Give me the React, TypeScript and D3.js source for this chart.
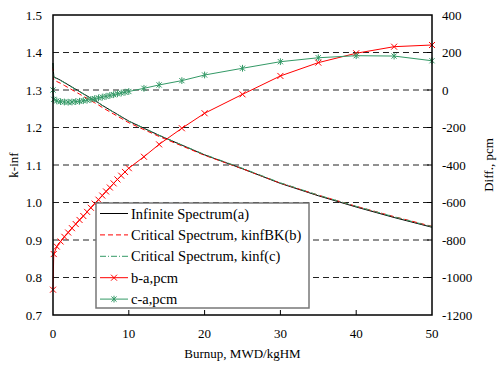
import React, { useRef, useEffect } from 'react';
import * as d3 from 'd3';

// burnup steps, MWD/kgHM
const burnup = [0, 0.1, 0.5, 1, 1.5, 2, 2.5, 3, 3.5, 4, 4.5, 5, 5.5, 6, 6.5, 7, 7.5, 8, 8.5, 9, 9.5, 10, 12, 14, 17, 20, 25, 30, 35, 40, 45, 50];

// k-inf curves
const kinfA = [1.372, 1.335, 1.331, 1.326, 1.320, 1.314, 1.308, 1.302, 1.296, 1.290, 1.284, 1.278, 1.272, 1.266, 1.259, 1.253, 1.247, 1.241, 1.235, 1.229, 1.223, 1.217, 1.198, 1.179, 1.153, 1.127, 1.090, 1.051, 1.018, 0.988, 0.960, 0.934];
const kinfBK = [1.3614, 1.3263, 1.3227, 1.3179, 1.3122, 1.3064, 1.3006, 1.2949, 1.2891, 1.2833, 1.2775, 1.2717, 1.2659, 1.2602, 1.2534, 1.2476, 1.2418, 1.2360, 1.2302, 1.2244, 1.2186, 1.2128, 1.1944, 1.1761, 1.1510, 1.1258, 1.0898, 1.0518, 1.0195, 0.9900, 0.9623, 0.9364];
const kinfC = [1.3720, 1.3345, 1.3304, 1.3254, 1.3194, 1.3134, 1.3074, 1.3014, 1.2954, 1.2894, 1.2835, 1.2775, 1.2715, 1.2656, 1.2586, 1.2527, 1.2467, 1.2408, 1.2348, 1.2288, 1.2229, 1.2169, 1.1981, 1.1793, 1.1535, 1.1278, 1.0912, 1.0525, 1.0197, 0.9898, 0.9618, 0.9356];

// differences, pcm
const diffBA = [-1065, -875, -835, -808, -783, -760, -737, -715, -693, -672, -650, -628, -606, -585, -563, -541, -520, -498, -477, -457, -437, -417, -356, -290, -204, -124, -23, 75, 146, 196, 231, 240];
const diffCA = [0, -50, -58, -62, -64, -65, -64, -62, -60, -57, -54, -50, -46, -42, -38, -34, -29, -25, -20, -16, -12, -8, 9, 27, 50, 80, 116, 151, 172, 183, 181, 156];

const xTicks = [0, 10, 20, 30, 40, 50];
const leftTicks = [0.7, 0.8, 0.9, 1.0, 1.1, 1.2, 1.3, 1.4, 1.5];
const rightTicks = [-1200, -1000, -800, -600, -400, -200, 0, 200, 400];

const legendLabels = ['Infinite Spectrum(a)', 'Critical Spectrum, kinfBK(b)', 'Critical Spectrum, kinf(c)', 'b-a,pcm', 'c-a,pcm'];

const RED = '#ff0000';
const GREEN = '#339966';
const FONT = "'Liberation Serif', 'Times New Roman', 'DejaVu Serif', serif";

const App = () => {
    const ref = useRef<SVGSVGElement>(null);

    useEffect(() => {
        const svg = d3.select(ref.current);
        svg.selectAll('*').remove();

        const left = 53, right = 432, top = 15, bottom = 315;

        const x = d3.scaleLinear().domain([0, 50]).range([left, right]);
        const yL = d3.scaleLinear().domain([0.7, 1.5]).range([bottom, top]);
        const yR = d3.scaleLinear().domain([-1200, 400]).range([bottom, top]);

        // grid
        svg.append('g').selectAll('line')
            .data(leftTicks.slice(1, -1))
            .enter().append('line')
            .attr('x1', left).attr('x2', right)
            .attr('y1', d => yL(d)).attr('y2', d => yL(d))
            .attr('stroke', '#222').attr('stroke-width', 1)
            .attr('stroke-dasharray', '6,4');

        const lineL = (vals: number[]) => d3.line<number>()
            .x((_, i) => x(burnup[i]))
            .y(d => yL(d))(vals);
        const lineR = (vals: number[]) => d3.line<number>()
            .x((_, i) => x(burnup[i]))
            .y(d => yR(d))(vals);

        svg.append('path').attr('d', lineL(kinfA))
            .attr('fill', 'none').attr('stroke', '#000').attr('stroke-width', 1);
        svg.append('path').attr('d', lineL(kinfBK))
            .attr('fill', 'none').attr('stroke', RED).attr('stroke-width', 1)
            .attr('stroke-dasharray', '5,3');
        svg.append('path').attr('d', lineL(kinfC))
            .attr('fill', 'none').attr('stroke', GREEN).attr('stroke-width', 1)
            .attr('stroke-dasharray', '6,2,1,2');

        const cross = (s: number) => `M${-s},${-s}L${s},${s}M${-s},${s}L${s},${-s}`;
        const star = (s: number) => `${cross(s)}M0,${-s * 1.3}L0,${s * 1.3}`;

        svg.append('path').attr('d', lineR(diffBA))
            .attr('fill', 'none').attr('stroke', RED).attr('stroke-width', 1);
        svg.append('g').selectAll('path')
            .data(diffBA)
            .enter().append('path')
            .attr('transform', (d, i) => `translate(${x(burnup[i])},${yR(d)})`)
            .attr('d', cross(3))
            .attr('stroke', RED).attr('stroke-width', 1).attr('fill', 'none');

        svg.append('path').attr('d', lineR(diffCA))
            .attr('fill', 'none').attr('stroke', GREEN).attr('stroke-width', 1);
        svg.append('g').selectAll('path')
            .data(diffCA)
            .enter().append('path')
            .attr('transform', (d, i) => `translate(${x(burnup[i])},${yR(d)})`)
            .attr('d', star(2.6))
            .attr('stroke', GREEN).attr('stroke-width', 1).attr('fill', 'none');

        // frame
        svg.append('rect')
            .attr('x', left).attr('y', top)
            .attr('width', right - left).attr('height', bottom - top)
            .attr('fill', 'none').attr('stroke', '#000').attr('stroke-width', 1.5);

        // ticks (inward)
        svg.append('g').selectAll('line')
            .data(xTicks.slice(1, -1))
            .enter().append('line')
            .attr('x1', d => x(d)).attr('x2', d => x(d))
            .attr('y1', bottom).attr('y2', bottom - 5)
            .attr('stroke', '#000');
        svg.append('g').selectAll('line')
            .data(rightTicks.slice(1, -1))
            .enter().append('line')
            .attr('x1', right - 5).attr('x2', right)
            .attr('y1', d => yR(d)).attr('y2', d => yR(d))
            .attr('stroke', '#000');

        // tick labels
        const txt = svg.append('g').style('font-family', FONT).style('font-size', '13px').attr('fill', '#000');
        txt.selectAll('.xl').data(xTicks).enter().append('text')
            .attr('x', d => x(d)).attr('y', 338)
            .attr('text-anchor', 'middle').text(d => d);
        txt.selectAll('.yl').data(leftTicks).enter().append('text')
            .attr('x', 42).attr('y', d => yL(d)).attr('dy', '0.35em')
            .attr('text-anchor', 'end').text(d => d3.format('.1f')(d));
        txt.selectAll('.yr').data(rightTicks).enter().append('text')
            .attr('x', 442).attr('y', d => yR(d)).attr('dy', '0.35em')
            .attr('text-anchor', 'start').text(d => d);

        txt.append('text').attr('x', (left + right) / 2).attr('y', 358)
            .attr('text-anchor', 'middle').text('Burnup, MWD/kgHM');
        txt.append('text').attr('transform', `translate(18,${(top + bottom) / 2}) rotate(-90)`)
            .attr('text-anchor', 'middle').text('k-inf');
        txt.append('text').attr('transform', `translate(493,${(top + bottom) / 2}) rotate(-90)`)
            .attr('text-anchor', 'middle').text('Diff., pcm');

        // legend
        const lg = svg.append('g');
        lg.append('rect')
            .attr('x', 96).attr('y', 203).attr('width', 213).attr('height', 105)
            .attr('fill', '#fff').attr('stroke', '#777').attr('stroke-width', 1.5);
        const styles = [
            { stroke: '#000', dash: null, marker: null },
            { stroke: RED, dash: '5,3', marker: null },
            { stroke: GREEN, dash: '6,2,1,2', marker: null },
            { stroke: RED, dash: null, marker: cross(3) },
            { stroke: GREEN, dash: null, marker: star(2.6) },
        ];
        legendLabels.forEach((label, i) => {
            const cy = 213.5 + i * 21.4;
            const st = styles[i];
            lg.append('line')
                .attr('x1', 100).attr('x2', 128).attr('y1', cy).attr('y2', cy)
                .attr('stroke', st.stroke).attr('stroke-width', 1)
                .attr('stroke-dasharray', st.dash);
            if (st.marker) {
                lg.append('path').attr('transform', `translate(114,${cy})`)
                    .attr('d', st.marker).attr('stroke', st.stroke).attr('fill', 'none');
            }
            lg.append('text')
                .attr('x', 131).attr('y', cy).attr('dy', '0.35em')
                .style('font-family', FONT).style('font-size', '14.5px')
                .text(label);
        });
    }, []);

    return (
        <svg ref={ref} width={497} height={365}
            style={{ position: 'absolute', left: 0, top: 0, background: '#fff' }}></svg>
    );
};

export default App;
